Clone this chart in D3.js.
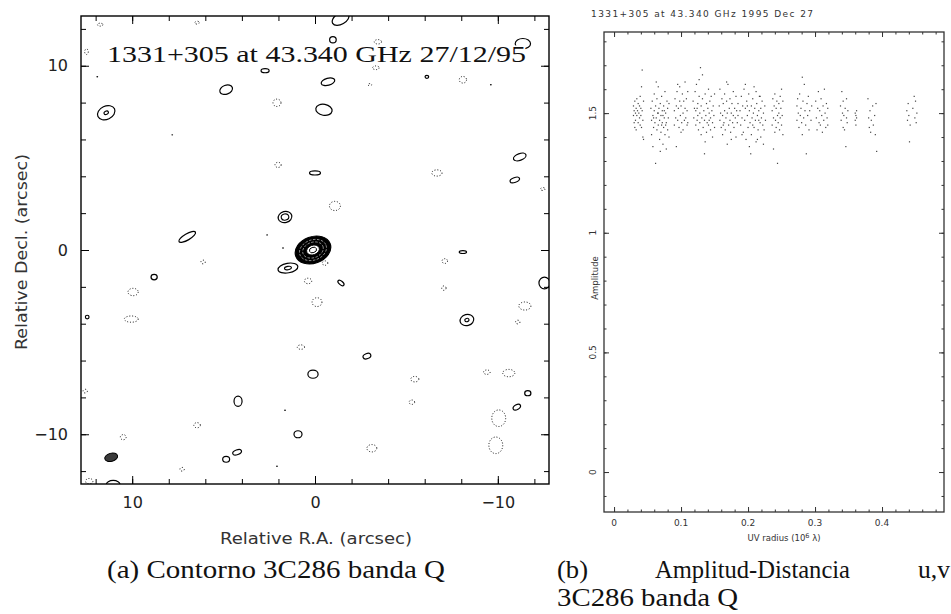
<!DOCTYPE html>
<html>
<head>
<meta charset="utf-8">
<script src="https://cdn.jsdelivr.net/npm/d3@7"></script>
<style>
  body { margin: 0; background: #fff; }
  svg { display: block; }
</style>
</head>
<body>
<svg id="fig" width="951" height="614"></svg>
<script>

// ---- contour map (a): components in arcsec  [ra, dec, rx, ry, tilt, innerRing]
var positiveContours = [
  [11.42, 7.45, 0.50, 0.36, -25, 0.25],
  [4.86, 8.70, 0.36, 0.24, -20, 0],
  [2.73, 9.73, 0.22, 0.11, 0, 0],
  [-0.71, 9.13, 0.38, 0.19, -15, 0],
  [-0.49, 7.61, 0.45, 0.30, 10, 0],
  [-0.98, 11.41, 0.18, 0.17, 0, 0],
  [-1.40, 12.55, 0.50, 0.30, -30, 0],
  [-6.12, 9.40, 0.10, 0.08, 0, 0],
  [-11.37, 11.20, 0.42, 0.28, 0, 0],
  [-11.20, 5.05, 0.36, 0.18, -20, 0],
  [-10.93, 3.80, 0.27, 0.13, -20, 0],
  [0.00, 4.18, 0.30, 0.11, 0, 0],
  [1.64, 1.79, 0.38, 0.30, -15, 0.55],
  [6.99, 0.71, 0.52, 0.17, -30, 0],
  [1.48, -0.98, 0.55, 0.26, -10, 0.35],
  [8.80, -1.47, 0.17, 0.15, 0, 0],
  [-1.42, -1.79, 0.20, 0.10, 40, 0],
  [-8.09, -0.11, 0.20, 0.08, 0, 0],
  [-12.55, -1.79, 0.30, 0.32, 0, 0],
  [-8.31, -3.80, 0.38, 0.30, -15, 0.3],
  [-2.84, -5.76, 0.22, 0.14, -20, 0],
  [0.11, -6.74, 0.28, 0.22, 0, 0],
  [-11.64, -7.77, 0.17, 0.14, 0, 0],
  [-11.04, -8.53, 0.22, 0.13, -30, 0],
  [4.21, -8.21, 0.22, 0.28, 0, 0],
  [0.93, -10.00, 0.22, 0.19, 0, 0],
  [4.26, -10.98, 0.25, 0.13, -20, 0],
  [4.86, -11.36, 0.19, 0.16, 0, 0],
  [11.04, -12.75, 0.38, 0.25, 0, 0],
  [12.46, -3.64, 0.10, 0.10, 0, 0]
];

var negativeContours = [
  [11.75, 12.23, 0.15, 0.08, 0], [6.45, 12.34, 0.12, 0.08, 0], [12.50, 10.76, 0.10, 0.15, 0],
  [2.08, 7.99, 0.22, 0.20, 0], [2.02, 4.62, 0.17, 0.14, 0], [-3.44, 11.30, 0.20, 0.12, 0],
  [-3.33, 9.89, 0.18, 0.10, 0], [-3.00, 8.97, 0.10, 0.06, 0], [-8.09, 9.24, 0.20, 0.18, 0],
  [-6.67, 4.18, 0.28, 0.17, 0], [-1.09, 2.39, 0.30, 0.25, 0], [-12.46, 3.31, 0.12, 0.08, 0],
  [6.12, -0.65, 0.12, 0.10, 0], [9.95, -2.28, 0.28, 0.20, 0], [10.05, -3.75, 0.38, 0.17, 0],
  [0.38, -1.68, 0.20, 0.15, 0], [-0.11, -2.83, 0.27, 0.24, 0], [0.77, -5.27, 0.20, 0.12, 0],
  [-0.55, -0.71, 0.15, 0.12, 0], [-7.10, -0.60, 0.15, 0.13, 0], [-7.05, -2.07, 0.12, 0.12, 0],
  [-11.48, -3.04, 0.33, 0.22, 0], [-11.09, -3.91, 0.12, 0.10, 0], [-5.46, -7.01, 0.22, 0.15, 0],
  [-9.40, -6.63, 0.18, 0.12, 0], [-10.60, -6.68, 0.33, 0.20, 0], [-5.30, -8.26, 0.15, 0.12, 0],
  [-10.05, -9.13, 0.38, 0.45, 0], [-9.89, -10.60, 0.38, 0.45, 0], [-3.11, -10.76, 0.27, 0.20, 0],
  [6.45, -9.51, 0.18, 0.14, 0], [10.49, -10.16, 0.16, 0.14, 0], [7.27, -11.90, 0.12, 0.10, 0],
  [12.35, -12.55, 0.20, 0.15, 0], [12.57, -7.66, 0.12, 0.10, 0]
];

// isolated single-pixel peaks
var tinyPeaks = [[11.91, 9.40], [7.81, 6.25], [2.62, 0.82], [1.75, 0.11], [1.64, -8.70], [-9.62, 8.97], [2.08, -11.74]];

// saturated blob in the lower left corner
var denseBlobs = [[11.15, -11.25, 0.36, 0.22, -15]];

// the core of 3C286
var coreSource = [0.11, 0.0, 1.0, 0.72, -20];
var coreLevels = [1.0, 0.76, 0.58, 0.36, 0.2];

var mapMinorTicks = [-12, -10, -8, -6, -4, -2, 0, 2, 4, 6, 8, 10, 12];
var mapMajorTicks = [-10, 0, 10];

// ---- amplitude vs uv distance (b): [uv radius (10^6 lambda), amplitude]
var visGroup1 = [[.029,1.49],[.029,1.53],[.030,1.46],[.030,1.51],[.031,1.44],[.031,1.55],[.032,1.50],[.032,1.47],[.033,1.52],[.033,1.43],[.034,1.56],[.034,1.49],[.035,1.51],[.036,1.46],[.036,1.54],[.037,1.50],[.038,1.48],[.038,1.53],[.039,1.45],[.039,1.57],[.040,1.52],[.040,1.49],[.041,1.61],[.041,1.44],[.042,1.51],[.042,1.68],[.043,1.47],[.043,1.40],[.044,1.55],[.044,1.39]];
var visGroup2 = [[.055,1.52],[.056,1.47],[.056,1.41],[.057,1.55],[.058,1.49],[.058,1.36],[.059,1.44],[.060,1.51],[.060,1.58],[.061,1.46],[.062,1.53],[.062,1.29],[.063,1.48],[.064,1.43],[.064,1.56],[.065,1.50],[.066,1.61],[.066,1.45],[.067,1.52],[.068,1.39],[.068,1.47],[.069,1.54],[.070,1.49],[.070,1.42],[.071,1.57],[.072,1.46],[.072,1.51],[.073,1.37],[.074,1.53],[.074,1.44],[.075,1.48],[.076,1.59],[.076,1.41],[.077,1.50],[.078,1.46],[.078,1.35],[.079,1.55],[.080,1.43],[.080,1.52],[.081,1.48],[.082,1.40],[.082,1.54],[.063,1.63],[.069,1.34],[.071,1.45],[.075,1.51],[.059,1.48],[.066,1.50],[.077,1.45],[.073,1.49]];
var visGroup3 = [[.090,1.51],[.090,1.45],[.091,1.56],[.092,1.48],[.093,1.53],[.093,1.36],[.094,1.59],[.095,1.47],[.096,1.52],[.097,1.44],[.098,1.55],[.098,1.61],[.099,1.49],[.100,1.53],[.101,1.46],[.102,1.58],[.103,1.50],[.103,1.43],[.104,1.55],[.105,1.47],[.106,1.63],[.106,1.52],[.107,1.48],[.108,1.56],[.109,1.45],[.109,1.51],[.110,1.59],[.110,1.46],[.100,1.42],[.095,1.62]];
var visGroup4 = [[.118,1.55],[.119,1.48],[.120,1.52],[.121,1.59],[.122,1.45],[.122,1.51],[.123,1.62],[.124,1.47],[.125,1.54],[.125,1.49],[.126,1.43],[.127,1.57],[.128,1.50],[.128,1.46],[.129,1.69],[.130,1.53],[.130,1.41],[.131,1.48],[.132,1.56],[.132,1.66],[.133,1.44],[.134,1.51],[.135,1.47],[.135,1.33],[.136,1.58],[.137,1.49],[.138,1.54],[.138,1.42],[.139,1.46],[.140,1.52],[.141,1.60],[.141,1.45],[.142,1.50],[.143,1.55],[.144,1.43],[.144,1.48],[.145,1.57],[.146,1.51],[.147,1.46],[.147,1.40],[.148,1.53],[.149,1.49],[.150,1.58],[.150,1.44],[.127,1.64],[.136,1.38],[.142,1.47],[.124,1.52]];
var visGroup5 = [[.157,1.53],[.158,1.47],[.158,1.60],[.159,1.50],[.160,1.44],[.161,1.56],[.162,1.49],[.162,1.41],[.163,1.54],[.164,1.46],[.165,1.58],[.165,1.51],[.166,1.43],[.167,1.48],[.168,1.55],[.169,1.50],[.169,1.37],[.170,1.62],[.171,1.45],[.172,1.52],[.173,1.47],[.173,1.56],[.174,1.42],[.175,1.50],[.176,1.54],[.177,1.46],[.178,1.59],[.178,1.49],[.179,1.44],[.180,1.52],[.181,1.48],[.182,1.57],[.182,1.40],[.183,1.51],[.184,1.46],[.185,1.54],[.185,1.49],[.168,1.63],[.175,1.39],[.163,1.45]];
var visGroup6 = [[.188,1.51],[.189,1.45],[.190,1.57],[.191,1.48],[.192,1.53],[.193,1.42],[.194,1.60],[.195,1.47],[.196,1.52],[.197,1.39],[.198,1.55],[.199,1.49],[.200,1.44],[.201,1.58],[.202,1.51],[.203,1.46],[.204,1.33],[.205,1.53],[.205,1.41],[.206,1.48],[.207,1.56],[.208,1.50],[.209,1.44],[.210,1.52],[.211,1.47],[.212,1.59],[.212,1.38],[.213,1.54],[.214,1.49],[.215,1.43],[.216,1.51],[.217,1.57],[.218,1.46],[.219,1.52],[.219,1.40],[.220,1.48],[.221,1.55],[.222,1.45],[.223,1.50],[.224,1.43],[.225,1.53],[.226,1.47],[.196,1.62],[.202,1.36],[.209,1.61],[.214,1.39],[.218,1.57],[.191,1.41],[.223,1.37],[.207,1.45],[.199,1.53],[.216,1.47]];
var visGroup7 = [[.236,1.51],[.236,1.45],[.237,1.56],[.238,1.48],[.238,1.35],[.239,1.53],[.240,1.42],[.240,1.58],[.241,1.47],[.242,1.52],[.242,1.44],[.243,1.55],[.244,1.49],[.244,1.29],[.245,1.46],[.246,1.54],[.246,1.50],[.247,1.43],[.248,1.57],[.248,1.48],[.249,1.52],[.250,1.45],[.250,1.60],[.251,1.49],[.252,1.55],[.252,1.41]];
var visGroup8 = [[.273,1.53],[.273,1.47],[.274,1.56],[.275,1.50],[.276,1.44],[.277,1.58],[.278,1.49],[.279,1.52],[.280,1.46],[.281,1.65],[.281,1.41],[.282,1.55],[.283,1.48],[.284,1.62],[.285,1.51],[.286,1.45],[.287,1.33],[.288,1.54],[.289,1.49],[.290,1.57],[.291,1.43],[.292,1.51],[.294,1.47],[.295,1.53]];
var visGroup9 = [[.301,1.55],[.302,1.48],[.303,1.43],[.304,1.52],[.305,1.59],[.306,1.46],[.307,1.51],[.308,1.45],[.309,1.56],[.310,1.49],[.311,1.42],[.312,1.53],[.313,1.47],[.314,1.60],[.315,1.50],[.316,1.44],[.317,1.54],[.318,1.48],[.319,1.52],[.319,1.45]];
var visGroup10 = [[.338,1.53],[.339,1.47],[.340,1.59],[.341,1.50],[.342,1.44],[.342,1.55],[.343,1.49],[.344,1.43],[.345,1.52],[.346,1.36],[.347,1.48],[.347,1.56],[.348,1.46],[.349,1.51]];
var visGroup11 = [[.360,1.50],[.360,1.47],[.361,1.49],[.361,1.45],[.362,1.51],[.362,1.48]];
var visGroup12 = [[.379,1.56],[.380,1.48],[.381,1.44],[.382,1.51],[.383,1.42],[.384,1.47],[.386,1.53],[.387,1.45],[.389,1.49],[.390,1.41],[.391,1.54],[.392,1.34]];
var visGroup13 = [[.437,1.51],[.438,1.47],[.439,1.54],[.440,1.49],[.441,1.38],[.442,1.45],[.446,1.52],[.448,1.57],[.449,1.48],[.450,1.55],[.451,1.46],[.452,1.50]];

var uvMajorTicks = [0, 0.1, 0.2, 0.3, 0.4];
var ampMajorTicks = [0, 0.5, 1, 1.5];


var svg = d3.select("#fig");
svg.append("rect").attr("width", 951).attr("height", 614).attr("fill", "#fff");

var SANS = "'DejaVu Sans', sans-serif";
var SERIF = "'Liberation Serif', 'DejaVu Serif', serif";

/*
  Panel (a): contour map
*/
var xMap = d3.scaleLinear().domain([12.8, -12.8]).range([81, 549]);
var yMap = d3.scaleLinear().domain([-12.7, 12.7]).range([484, 16]);
var kx = Math.abs(xMap(1) - xMap(0)), ky = Math.abs(yMap(1) - yMap(0));

svg.append("clipPath").attr("id", "mapClip")
  .append("rect").attr("x", 81).attr("y", 16).attr("width", 468).attr("height", 468);

var map = svg.append("g").attr("clip-path", "url(#mapClip)");

var ellipseAt = function(sel, d, f) {
  var cx = xMap(d[0]), cy = yMap(d[1]);
  return sel.attr("cx", cx).attr("cy", cy)
    .attr("rx", d[2] * kx * f).attr("ry", d[3] * ky * f)
    .attr("transform", "rotate(" + d[4] + "," + cx + "," + cy + ")");
};

// negative levels dotted
map.append("g").selectAll("ellipse").data(negativeContours).join("ellipse")
  .each(function(d) { ellipseAt(d3.select(this), d, 1); })
  .attr("fill", "none").attr("stroke", "#111").attr("stroke-width", 1)
  .attr("stroke-dasharray", "1 1.8");

// positive levels solid
var pos = map.append("g");
pos.selectAll("ellipse.outer").data(positiveContours).join("ellipse").attr("class", "outer")
  .each(function(d) { ellipseAt(d3.select(this), d, 1); })
  .attr("fill", "none").attr("stroke", "#000").attr("stroke-width", 1.2);
pos.selectAll("ellipse.inner").data(positiveContours.filter(function(d) { return d[5] > 0; }))
  .join("ellipse").attr("class", "inner")
  .each(function(d) { ellipseAt(d3.select(this), d, d[5]); })
  .attr("fill", "none").attr("stroke", "#000").attr("stroke-width", 1.1);

pos.selectAll("ellipse.dot").data(tinyPeaks).join("ellipse").attr("class", "dot")
  .attr("cx", function(d) { return xMap(d[0]); }).attr("cy", function(d) { return yMap(d[1]); })
  .attr("rx", 0.9).attr("ry", 0.7).attr("fill", "#000");

pos.selectAll("ellipse.blob").data(denseBlobs).join("ellipse").attr("class", "blob")
  .each(function(d) { ellipseAt(d3.select(this), d, 1); })
  .attr("fill", "#3a3a3a").attr("stroke", "#000").attr("stroke-width", 1);

// core: packed contours, black with thin white gaps, white centre
var core = map.append("g");
core.selectAll("ellipse").data(coreLevels).join("ellipse")
  .each(function(f) { ellipseAt(d3.select(this), coreSource, f); })
  .attr("fill", function(f, i) { return i === 0 ? "#000" : (i === 3 ? "#fff" : "none"); })
  .attr("stroke", function(f, i) { return i === 0 || i >= 3 ? "#000" : "#fff"; })
  .attr("stroke-width", function(f, i) { return i === 0 ? 1.2 : (i >= 3 ? 0.9 : 0.5); })
  .attr("stroke-dasharray", function(f, i) { return (i > 0 && i < 3) ? "2.5 1.5" : null; });

// title inside the map
svg.append("text")
  .attr("x", 107).attr("y", 62)
  .attr("textLength", 419).attr("lengthAdjust", "spacingAndGlyphs")
  .attr("font-family", SERIF).attr("font-size", 24)
  .attr("fill", "#111").attr("stroke", "#fff").attr("stroke-width", 3)
  .attr("paint-order", "stroke")
  .text("1331+305 at 43.340 GHz  27/12/95");

// ticks on all four sides, pointing inward
var mapAxes = [
  [d3.axisBottom, xMap, "translate(0,484)", true],
  [d3.axisTop, xMap, "translate(0,16)", false],
  [d3.axisLeft, yMap, "translate(81,0)", true],
  [d3.axisRight, yMap, "translate(549,0)", false]
];
mapAxes.forEach(function(a) {
  var minor = a[0](a[1]).tickValues(mapMinorTicks).tickSize(-5).tickSizeOuter(0).tickFormat("");
  svg.append("g").attr("transform", a[2]).attr("color", "#000").call(minor);
  var major = a[0](a[1]).tickValues(mapMajorTicks).tickSize(-8).tickSizeOuter(0).tickPadding(13);
  if (!a[3]) major.tickFormat("");
  svg.append("g").attr("transform", a[2]).attr("color", "#000").call(major)
    .attr("font-family", SANS).attr("font-size", 16);
});
svg.selectAll(".domain").remove();
svg.selectAll(".tick text").attr("fill", "#222");

svg.append("rect").attr("x", 81).attr("y", 16).attr("width", 468).attr("height", 468)
  .attr("fill", "none").attr("stroke", "#000").attr("stroke-width", 1.4);

svg.append("text").attr("x", 316).attr("y", 544).attr("text-anchor", "middle")
  .attr("font-family", SANS).attr("font-size", 16).attr("fill", "#333")
  .attr("textLength", 192).attr("lengthAdjust", "spacingAndGlyphs")
  .text("Relative R.A. (arcsec)");
svg.append("text").attr("transform", "translate(27,252) rotate(-90)").attr("text-anchor", "middle")
  .attr("font-family", SANS).attr("font-size", 16).attr("fill", "#333")
  .attr("textLength", 196).attr("lengthAdjust", "spacingAndGlyphs")
  .text("Relative Decl. (arcsec)");

/*
  Panel (b): amplitude vs uv distance
*/
var xUv = d3.scaleLinear().domain([-0.015, 0.4925]).range([604, 944]);
var yAmp = d3.scaleLinear().domain([-0.167, 1.839]).range([512, 32]);

var visGroups = [visGroup1, visGroup2, visGroup3, visGroup4, visGroup5, visGroup6, visGroup7,
  visGroup8, visGroup9, visGroup10, visGroup11, visGroup12, visGroup13];

svg.append("g").selectAll("g").data(visGroups).join("g")
  .selectAll("rect").data(function(d) { return d; }).join("rect")
    .attr("x", function(d) { return xUv(d[0]) - 0.6; })
    .attr("y", function(d) { return yAmp(d[1]) - 0.6; })
    .attr("width", 1.2).attr("height", 1.2)
    .attr("fill", "#444");

var uvMinor = d3.range(0, 25).map(function(i) { return +(i * 0.02).toFixed(2); });
var ampMinor = d3.range(-1, 19).map(function(i) { return +(i * 0.1).toFixed(1); });

var uvAxes = [
  [d3.axisBottom, xUv, "translate(0,512)", uvMinor, uvMajorTicks],
  [d3.axisTop, xUv, "translate(0,32)", uvMinor, uvMajorTicks],
  [d3.axisLeft, yAmp, "translate(604,0)", ampMinor, ampMajorTicks],
  [d3.axisRight, yAmp, "translate(944,0)", ampMinor, ampMajorTicks]
];
uvAxes.forEach(function(a) {
  svg.append("g").attr("transform", a[2]).attr("color", "#333")
    .call(a[0](a[1]).tickValues(a[3]).tickSize(-2.5).tickSizeOuter(0).tickFormat(""));
  svg.append("g").attr("transform", a[2]).attr("color", "#333")
    .call(a[0](a[1]).tickValues(a[4]).tickSize(-5).tickSizeOuter(0).tickFormat(""));
});
svg.selectAll(".domain").remove();

svg.append("rect").attr("x", 604).attr("y", 32).attr("width", 340).attr("height", 480)
  .attr("fill", "none").attr("stroke", "#333").attr("stroke-width", 1.3);

svg.append("g").selectAll("text").data(uvMajorTicks).join("text")
  .attr("x", function(d) { return xUv(d); }).attr("y", 526)
  .attr("text-anchor", "middle").attr("font-family", SANS).attr("font-size", 9).attr("fill", "#333")
  .text(function(d) { return d === 0 ? "0" : d3.format(".1f")(d); });

svg.append("g").selectAll("text").data(ampMajorTicks).join("text")
  .attr("transform", function(d) { return "translate(596," + yAmp(d) + ") rotate(-90)"; })
  .attr("text-anchor", "middle").attr("font-family", SANS).attr("font-size", 9).attr("fill", "#333")
  .text(function(d) { return d === 0 || d === 1 ? String(d) : d3.format(".1f")(d); });

var uvLabel = svg.append("text").attr("x", 784).attr("y", 541).attr("text-anchor", "middle")
  .attr("font-family", SANS).attr("font-size", 8.5).attr("fill", "#333");
uvLabel.append("tspan").text("UV radius  (10");
uvLabel.append("tspan").attr("dy", -3.5).attr("font-size", 6.5).text("6");
uvLabel.append("tspan").attr("dy", 3.5).text(" \u03bb)");

svg.append("text").attr("transform", "translate(598,278) rotate(-90)").attr("text-anchor", "middle")
  .attr("font-family", SANS).attr("font-size", 8.5).attr("fill", "#333").text("Amplitude");

svg.append("text").attr("x", 591).attr("y", 17)
  .attr("font-family", SANS).attr("font-size", 9).attr("fill", "#333")
  .attr("textLength", 222).attr("lengthAdjust", "spacing")
  .text("1331+305 at 43.340 GHz 1995 Dec 27");

/*
  Sub-figure captions
*/
var cap = function(x, y, str, len) {
  var t = svg.append("text").attr("x", x).attr("y", y)
    .attr("font-family", SERIF).attr("font-size", 26).attr("fill", "#111").text(str);
  if (len) t.attr("textLength", len).attr("lengthAdjust", "spacingAndGlyphs");
};
cap(107, 578, "(a) Contorno 3C286 banda Q", 338);
cap(557, 578, "(b)", 31);
cap(655, 578, "Amplitud-Distancia", 195);
cap(918, 578, "u,v", 32);
cap(557, 606, "3C286 banda Q", 181);

</script>
</body>
</html>
